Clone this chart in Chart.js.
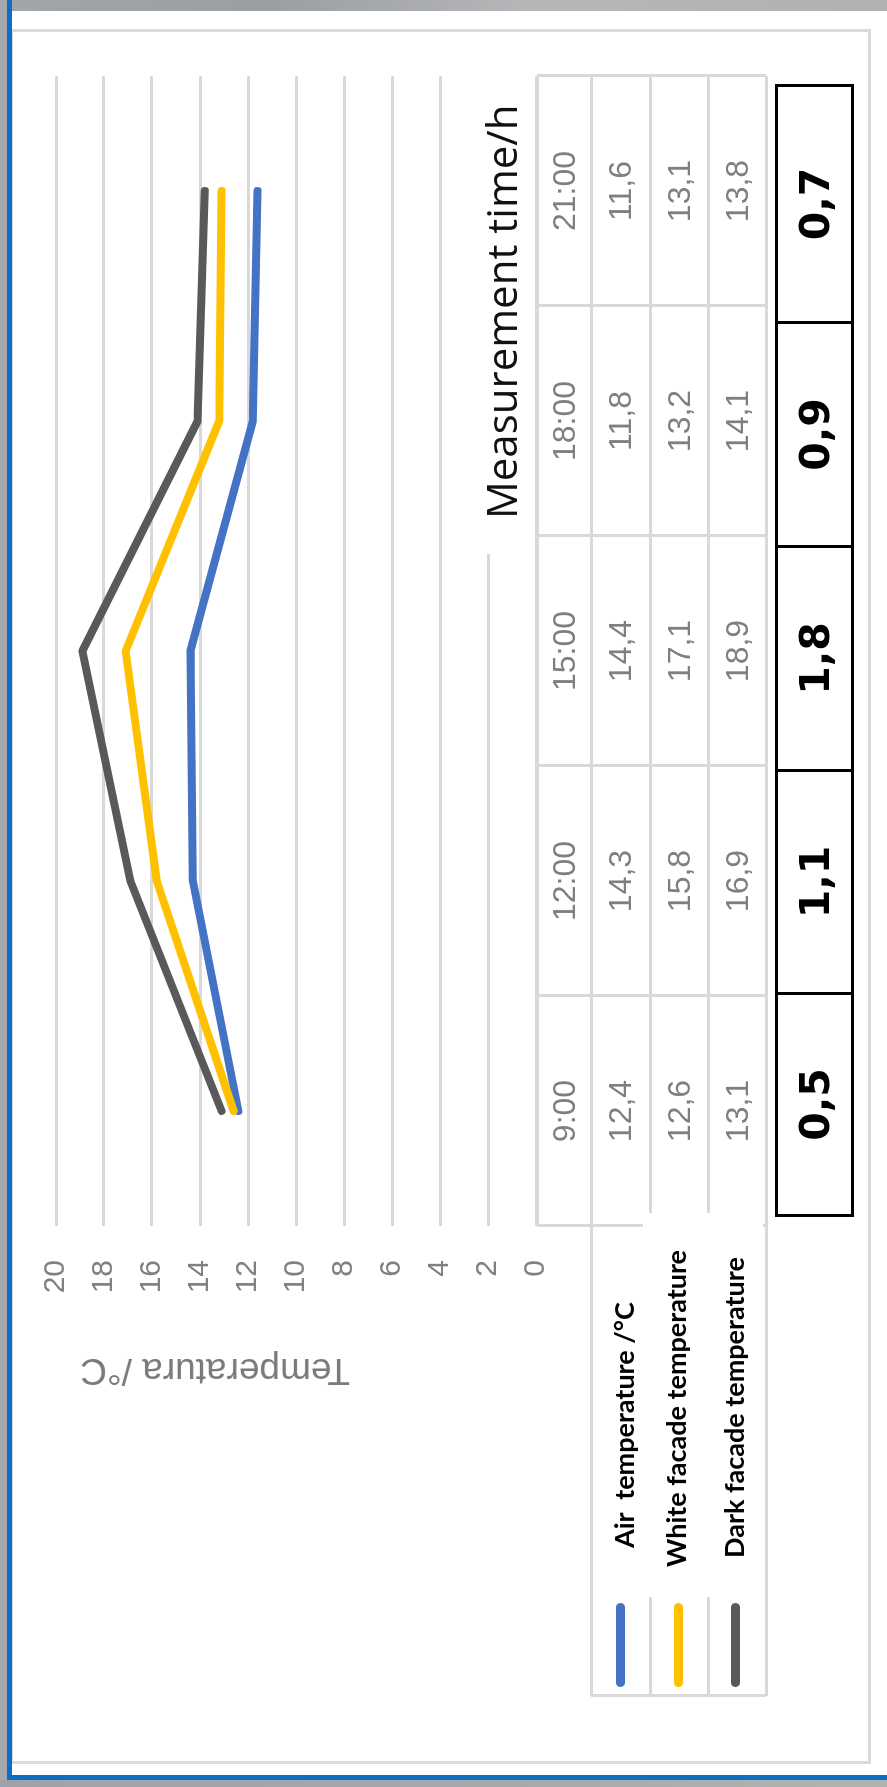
<!DOCTYPE html>
<html>
<head>
<meta charset="utf-8">
<script src="https://cdn.jsdelivr.net/npm/chart.js@4.4.0/dist/chart.umd.min.js"></script>
<style>
  html, body { margin: 0; padding: 0; }
  body { width: 887px; height: 1787px; position: relative; overflow: hidden; background: #fff; }
  .abs { position: absolute; }
  /* the chart is laid out landscape and turned a quarter turn */
  #stage { position: absolute; left: 0; top: 0; width: 1787px; height: 887px;
           transform-origin: 0 0; transform: translate(0, 1787px) rotate(-90deg); }
  #stage canvas { position: absolute; left: 0; top: 0; }
  .cell { position: absolute; display: flex; align-items: center; justify-content: center;
          font-family: 'Liberation Sans', Arial, sans-serif; font-size: 32px; color: #7f7f7f; }
  .box { position: absolute; display: flex; align-items: center; justify-content: center;
         font-family: 'DejaVu Sans', Verdana, sans-serif; font-weight: bold; font-size: 41px; color: #000; }
  .lbl { position: absolute; white-space: pre; font-family: Lato, sans-serif; font-weight: bold;
         font-size: 27px; line-height: 27px; color: #000; }
</style>
</head>
<body>
<!-- slide frame around the chart -->
<div class="abs" style="left:0;top:0;width:887px;height:11px;background:linear-gradient(90deg,#a2a5a9,#9b9ea2 30%,#b5b7b9 60%,#b1b1b1);"></div>
<div class="abs" style="left:10px;top:29px;width:861px;height:1735px;border:3px solid #dadada;box-sizing:border-box;"></div>
<div class="abs" style="left:0;top:0;width:7px;height:1787px;background:#a4a8ad;"></div>
<div class="abs" style="left:7px;top:0;width:5px;height:1780px;background:#0b6fc3;"></div>
<div class="abs" style="left:0;top:1780px;width:887px;height:7px;background:linear-gradient(90deg,#9fa3a7,#a7a9ab 60%,#b3b3b3);"></div>
<div class="abs" style="left:7px;top:1775px;width:880px;height:5px;background:#0b6fc3;"></div>

<div id="stage">
  <canvas id="chart" width="1787" height="887"></canvas>
</div>

<script>
const times = ['9:00', '12:00', '15:00', '18:00', '21:00'];
const airTemp = [12.4, 14.3, 14.4, 11.8, 11.6];
const whiteFacade = [12.6, 15.8, 17.1, 13.2, 13.1];
const darkFacade = [13.1, 16.9, 18.9, 14.1, 13.8];
const facadeDiff = ['0,5', '1,1', '1,8', '0,9', '0,7'];

const seriesNames = ['Air  temperature /\u00b0C', 'White facade temperature', 'Dark facade temperature'];
const seriesColors = ['#4472c4', '#ffc000', '#595959'];
const yMin = 0, yMax = 20, yStep = 2;

const gridColor = '#d9d9d9';
const stage = document.getElementById('stage');

function put(cls, css, text) {
    const d = document.createElement('div');
    d.className = cls;
    d.style.cssText = css;
    if (text !== undefined) d.textContent = text;
    stage.appendChild(d);
    return d;
}
function hLine(u1, u2, v, w, c) {
    put('abs', `left:${u1}px;top:${v - w / 2}px;width:${u2 - u1}px;height:${w}px;background:${c};`);
}
function vLine(u, v1, v2, w, c) {
    put('abs', `left:${u - w / 2}px;top:${v1}px;width:${w}px;height:${v2 - v1}px;background:${c};`);
}
function fmt(v) {
    return v.toFixed(1).replace('.', ',');
}

const allSeries = [airTemp, whiteFacade, darkFacade];

const chart = new Chart(document.getElementById('chart'), {
    type: 'line',
    data: {
        labels: times,
        datasets: allSeries.map((d, i) => ({
            label: seriesNames[i],
            data: d,
            borderColor: seriesColors[i],
            backgroundColor: seriesColors[i],
            order: allSeries.length - i
        }))
    },
    options: {
        responsive: false,
        animation: false,
        devicePixelRatio: 1,
        layout: { padding: { left: 0, right: 76, top: 56, bottom: 351 } },
        plugins: { legend: { display: false }, tooltip: { enabled: false } },
        elements: {
            point: { radius: 0 },
            line: { tension: 0, borderWidth: 8, borderCapStyle: 'round', borderJoinStyle: 'round' }
        },
        scales: {
            x: { display: false, offset: true },
            y: {
                min: yMin,
                max: yMax,
                afterFit: s => { s.width = 561; },
                border: { display: false },
                grid: { color: gridColor, lineWidth: 3, drawTicks: false },
                ticks: {
                    stepSize: yStep,
                    padding: 34,
                    color: '#808080',
                    font: { family: 'Liberation Sans', size: 30 }
                }
            }
        }
    }
});

// data table under the plot, columns follow the category scale
const area = chart.chartArea;
const xs = chart.scales.x;
const colW = (area.right - area.left) / times.length;
const rowTops = [area.bottom + 1, 591, 650, 708, 766];
const keyLeft = 91;

for (let r = 0; r < rowTops.length; r++) {
    hLine(r === 0 ? area.left : keyLeft, area.right, rowTops[r], 3, gridColor);
}
for (let i = 0; i <= times.length; i++) {
    vLine(area.left + i * colW, rowTops[0], rowTops[4], 3, gridColor);
}
vLine(keyLeft, rowTops[1], rowTops[4], 3, gridColor);

times.forEach((t, i) => {
    const cx = xs.getPixelForValue(i);
    const rows = [t].concat(allSeries.map(s => fmt(s[i])));
    rows.forEach((txt, r) => {
        put('cell', `left:${cx - colW / 2}px;top:${rowTops[r]}px;width:${colW}px;height:${rowTops[r + 1] - rowTops[r]}px;`, txt);
    });
});

// white text box holding the series names
put('abs', 'left:190px;top:643px;width:384px;height:120px;background:#fff;');
put('abs', 'left:190px;top:593px;width:337px;height:50px;background:#fff;');

const keyMid = [620, 678, 735];
const lblTop = [610, 662, 720];
const lblLeft = [239, 220, 229];
seriesNames.forEach((name, i) => {
    put('abs', `left:100px;top:${keyMid[i] - 4.5}px;width:84px;height:9px;border-radius:4.5px;background:${seriesColors[i]};`);
    put('lbl', `left:${lblLeft[i]}px;top:${lblTop[i]}px;`, name);
});

// x axis title on its own white box
put('abs', 'left:1233px;top:470px;width:478px;height:64px;background:#fff;');
put('abs', "left:1268px;top:480px;white-space:nowrap;font-family:'Open Sans',sans-serif;font-size:42px;line-height:42px;color:#111;", 'Measurement time/h');

// y axis title
put('abs', "left:397px;top:350px;white-space:nowrap;transform-origin:0 0;transform:rotate(-90deg);font-family:'Liberation Sans',Arial,sans-serif;font-size:37px;line-height:37px;color:#7a7a7a;", 'Temperatura /\u00b0C');

// framed row of differences
const boxEdges = [570, 792, 1015, 1239, 1463, 1700];
facadeDiff.forEach((txt, i) => {
    put('box', `left:${boxEdges[i]}px;top:775px;width:${boxEdges[i + 1] - boxEdges[i] + 3}px;height:79px;border:3px solid #000;box-sizing:border-box;`, txt);
});
</script>
</body>
</html>
